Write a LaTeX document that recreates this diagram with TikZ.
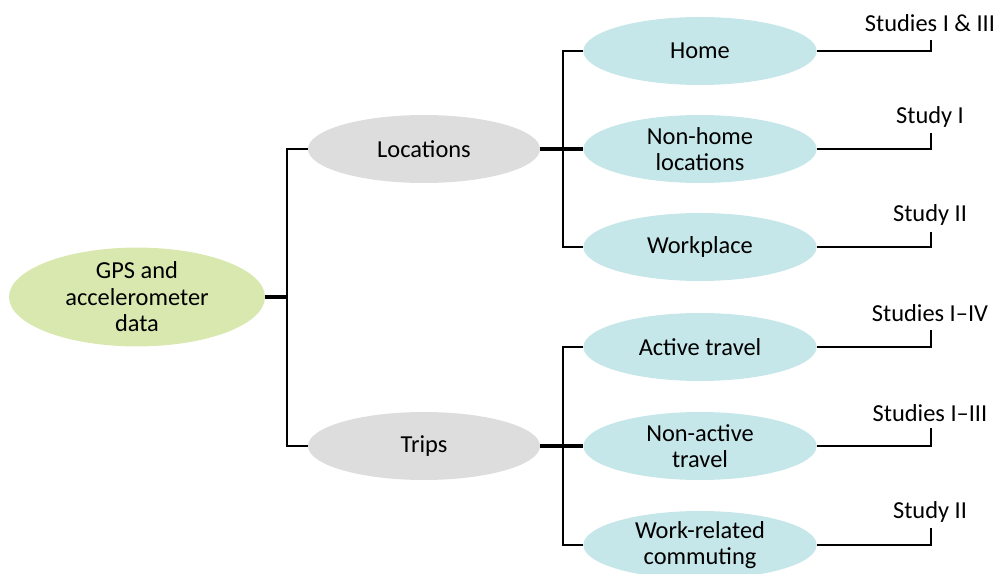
\documentclass[tikz,border=0pt]{standalone}
\usepackage{fontspec}
\setmainfont{Carlito}
\usetikzlibrary{shapes.geometric}
\definecolor{rootgreen}{HTML}{D8E8AE}
\definecolor{midgray}{HTML}{DDDDDD}
\definecolor{leafblue}{HTML}{C6E7E9}
\tikzset{
  every node/.style={font=\fontsize{18.3pt}{19.8pt}\selectfont, align=center},
  rootnode/.style={ellipse, fill=rootgreen, inner sep=0pt, minimum width=192pt, minimum height=67.5pt},
  midnode/.style={ellipse, fill=midgray, inner sep=0pt, minimum width=174pt, minimum height=51pt},
  leafnode/.style={ellipse, fill=leafblue, inner sep=0pt, minimum width=175pt, minimum height=51pt},
  studylabel/.style={inner sep=0pt},
  thinline/.style={line width=1.5pt, black},
  thickline/.style={line width=3pt, black},
}
\begin{document}
\begin{tikzpicture}[x=0.75pt, y=-0.75pt]
\useasboundingbox (0,0) rectangle (1003,574);
% nodes
\node[rootnode] (root) at (137,297) {GPS and\\accelerometer\\data};
\node[midnode] (loc) at (424,149) {Locations};
\node[midnode] (trips) at (424,446) {Trips};
\node[leafnode] (home) at (700,51) {Home};
\node[leafnode] (nonhome) at (700,149) {Non-home\\locations};
\node[leafnode] (work) at (700,247) {Workplace};
\node[leafnode] (active) at (700,347) {Active travel};
\node[leafnode] (nonactive) at (700,446) {Non-active\\travel};
\node[leafnode] (commute) at (700,545) {Work-related\\commuting};
% study labels
\node[studylabel] (s1) at (930,23) {Studies I \& III};
\node[studylabel] (s2) at (930,117) {Study I};
\node[studylabel] (s3) at (930,215) {Study II};
\node[studylabel] (s4) at (930,313) {Studies I–IV};
\node[studylabel] (s5) at (930,413) {Studies I–III};
\node[studylabel] (s6) at (930,512) {Study II};
% bracket coordinates
\coordinate (b1) at (287,297);
\coordinate (b2) at (563,149);
\coordinate (b3) at (563,446);
\coordinate (c1) at (931,40);
\coordinate (c2) at (931,133);
\coordinate (c3) at (931,232);
\coordinate (c4) at (931,330);
\coordinate (c5) at (931,428);
\coordinate (c6) at (931,528);
% connectors
\draw[thickline] (root.east) -- (b1);
\draw[thinline] (loc.west) -| (b1) |- (trips.west);
\draw[thickline] (loc.east) -- (nonhome.west);
\draw[thinline] (home.west) -| (b2) |- (work.west);
\draw[thickline] (trips.east) -- (nonactive.west);
\draw[thinline] (active.west) -| (b3) |- (commute.west);
\draw[thinline] (home.east) -| (c1);
\draw[thinline] (nonhome.east) -| (c2);
\draw[thinline] (work.east) -| (c3);
\draw[thinline] (active.east) -| (c4);
\draw[thinline] (nonactive.east) -| (c5);
\draw[thinline] (commute.east) -| (c6);
\end{tikzpicture}
\end{document}
